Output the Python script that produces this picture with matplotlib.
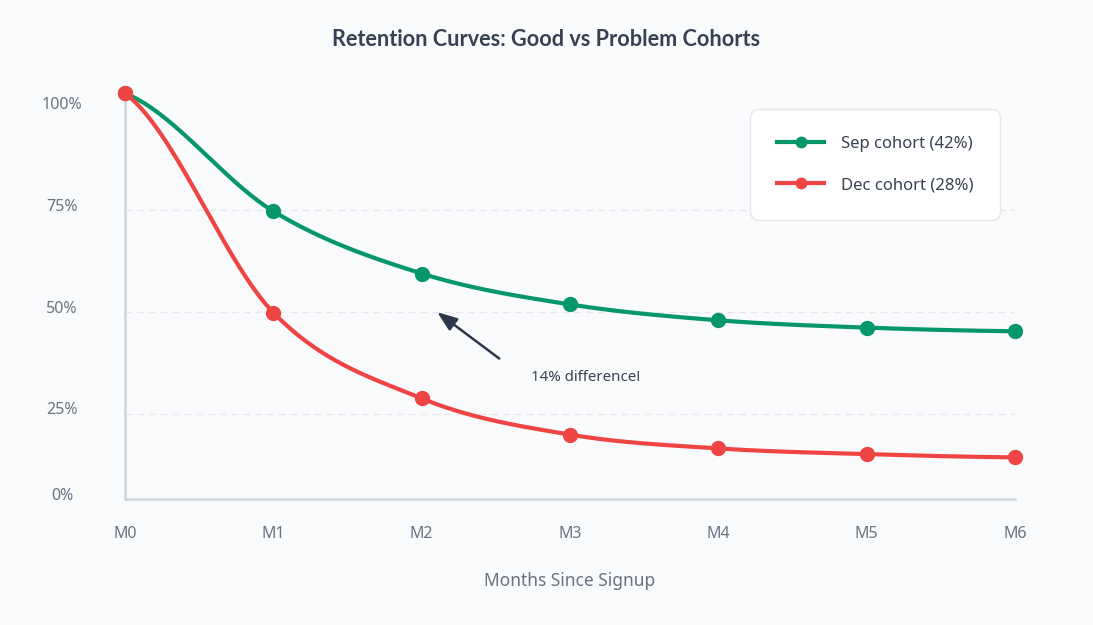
import numpy as np
import matplotlib
matplotlib.use('Agg')
import matplotlib.pyplot as plt
from matplotlib.lines import Line2D
from matplotlib.transforms import ScaledTranslation

# ---------------- data ----------------
months = ['M0', 'M1', 'M2', 'M3', 'M4', 'M5', 'M6']
sep_values = [103.8, 74.8, 59.5, 51.9, 48.0, 46.2, 45.3]
dec_values = [103.8, 49.9, 28.8, 19.9, 16.5, 15.1, 14.3]
sep_label = 'Sep cohort (42%)'
dec_label = 'Dec cohort (28%)'
y_tick_values = [4, 25, 50, 75, 100]
y_tick_labels = ['0%', '25%', '50%', '75%', '100%']
grid_values = [25, 50, 75]
title = 'Retention Curves: Good vs Problem Cohorts'
xlabel = 'Months Since Signup'
note = '14% difference!'

# ---------------- style ----------------
BG = '#f9fafb'
GREEN = '#059669'
RED = '#ef4444'
AXIS = '#d1d5db'
GRID = '#e5e7eb'
TICK = '#6b7280'
DARK = '#374151'
FONT = ['Noto Sans', 'DejaVu Sans']
plt.rcParams['font.family'] = FONT


def smooth(xs, ys, n=60):
    """Cardinal (Catmull-Rom in x) Hermite curve through the points."""
    xs = np.asarray(xs, float)
    ys = np.asarray(ys, float)
    h = np.diff(xs)
    m = np.empty_like(ys)
    m[1:-1] = (ys[2:] - ys[:-2]) / (xs[2:] - xs[:-2])
    m[0] = (ys[1] - ys[0]) / (2 * h[0])
    m[-1] = (ys[-1] - ys[-2]) / (2 * h[-1])
    ox, oy = [], []
    for i in range(len(xs) - 1):
        t = np.linspace(0, 1, n)
        h00 = 2 * t**3 - 3 * t**2 + 1
        h10 = t**3 - 2 * t**2 + t
        h01 = -2 * t**3 + 3 * t**2
        h11 = t**3 - t**2
        ox.append(xs[i] + t * h[i])
        oy.append(h00 * ys[i] + h10 * h[i] * m[i] + h01 * ys[i + 1] + h11 * h[i] * m[i + 1])
    return np.concatenate(ox), np.concatenate(oy)


W, H = 1093, 625
fig = plt.figure(figsize=(W / 100, H / 100), dpi=100, facecolor=BG)
ax = fig.add_axes([125 / W, (H - 499.3) / H, 890 / W, 406 / H])
ax.set_facecolor(BG)
ax.set_xlim(0, len(months) - 1)
ax.set_ylim(4, 103.8)

x = np.arange(len(months))

for v in grid_values:
    ax.axhline(v, color=GRID, lw=1.0, linestyle=(0, (5, 3.5)), zorder=1)

handles = []
for vals, color, label in [(sep_values, GREEN, sep_label), (dec_values, RED, dec_label)]:
    sx, sy = smooth(x, vals)
    ax.plot(sx, sy, color=color, lw=3, solid_capstyle='round', zorder=3, clip_on=False)
    ax.plot(x, vals, 'o', ms=10, color=color, zorder=4, clip_on=False)
    handles.append(Line2D([], [], color=color, lw=3, marker='o', ms=7.5, label=label))

for s in ['top', 'right']:
    ax.spines[s].set_visible(False)
for s in ['left', 'bottom']:
    ax.spines[s].set_color(AXIS)
    ax.spines[s].set_linewidth(1.8)
    ax.spines[s].set_zorder(2)

ax.set_xticks(x, months)
ax.tick_params(axis='x', length=0, pad=19.5, labelsize=11.5, labelcolor=TICK)
ax.set_yticks(y_tick_values, y_tick_labels)
ax.tick_params(axis='y', length=0, pad=45.4, labelsize=11.5, labelcolor=TICK)
for lbl in ax.get_yticklabels():
    lbl.set_horizontalalignment('center')
    lbl.set_transform(lbl.get_transform() + ScaledTranslation(0, 5.4 / 100, fig.dpi_scale_trans))

ax.set_xlabel(xlabel, fontsize=12.5, color=TICK)
ax.xaxis.set_label_coords(0.5, (499.3 - 580.7) / 406)
ax.xaxis.label.set_verticalalignment('center')

fig.text(0.5, 1 - 39 / H, title, ha='center', va='center', fontsize=15.6,
         fontweight='bold', color=DARK, family=['Lato', 'Roboto', 'DejaVu Sans'])

leg = ax.legend(handles=handles, loc='upper left',
                bbox_to_anchor=((750 - 125) / 890, (499.3 - 109.3) / 406),
                frameon=True, fontsize=12, handlelength=2.82, handletextpad=1.0,
                borderpad=1.62, labelspacing=1.5, borderaxespad=0, labelcolor=DARK)
frame = leg.get_frame()
frame.set_facecolor('white')
frame.set_edgecolor(GRID)
frame.set_linewidth(1.0)
frame.set_alpha(1)
frame.set_boxstyle('round', pad=0, rounding_size=0.55)
leg.set_zorder(6)

ax.annotate('', xy=(2.105, 50.0), xytext=(2.523, 38.6),
            arrowprops=dict(arrowstyle='-|>,head_length=0.8,head_width=0.3',
                            color='#2d3748', lw=1.8, mutation_scale=15,
                            shrinkA=0, shrinkB=0), zorder=5)
ax.text(3.107, 33.85, note, ha='center', va='center', fontsize=10.8, color=DARK)

fig.savefig('out.png', dpi=100, facecolor=BG)
